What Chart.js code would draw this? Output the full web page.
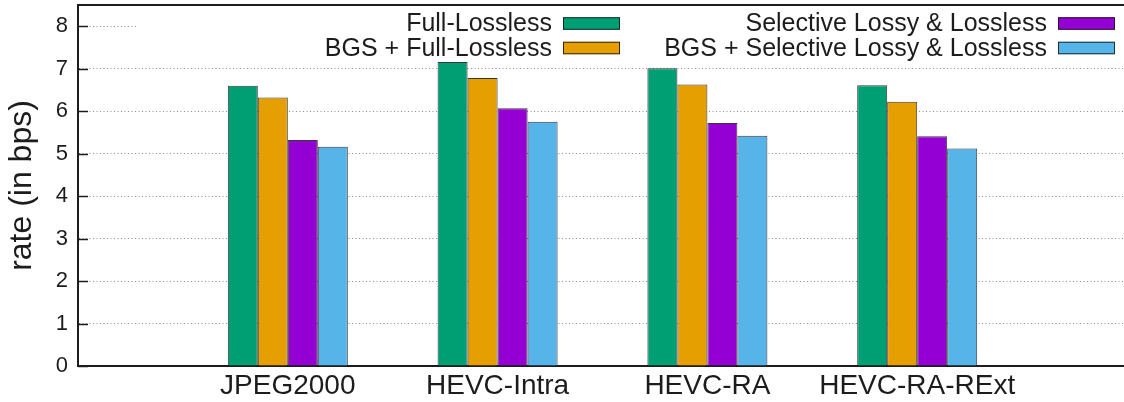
<!DOCTYPE html>
<html>
<head>
<meta charset="utf-8">
<title>Coding rate per codec</title>
<script src="https://cdn.jsdelivr.net/npm/chart.js@4/dist/chart.umd.min.js"></script>
<style>
  html, body { margin: 0; padding: 0; background: #fff; overflow: hidden; }
  #wrap { width: 1124px; height: 402px; overflow: hidden; }
  canvas { display: block; }
</style>
</head>
<body>
<div id="wrap"><canvas id="chart" width="1130" height="402"></canvas></div>
<script>
// Codecs on the x axis
const codecs = ['JPEG2000', 'HEVC-Intra', 'HEVC-RA', 'HEVC-RA-RExt'];

// Rate (bits per sample) for each coding scheme
const fullLossless       = [6.60, 7.16, 7.01, 6.61];
const bgsFullLossless    = [6.32, 6.78, 6.63, 6.22];
const selectiveLossy     = [5.32, 6.07, 5.72, 5.41];
const bgsSelectiveLossy  = [5.16, 5.75, 5.42, 5.12];

// Y axis tick values
const yTicks = [0, 1, 2, 3, 4, 5, 6, 7, 8];

const FONT = '"Liberation Sans", Arial, Helvetica, sans-serif';
const INK = '#1c1c1c';

// Empty slots on both sides give the axis its margin around the groups
const labels = ['', ...codecs, ''];
const pad = arr => [null, ...arr, null];

const series = [
  { label: 'Full-Lossless', data: fullLossless, color: '#009e73' },
  { label: 'BGS + Full-Lossless', data: bgsFullLossless, color: '#e69f00' },
  { label: 'Selective Lossy & Lossless', data: selectiveLossy, color: '#9400d3' },
  { label: 'BGS + Selective Lossy & Lossless', data: bgsSelectiveLossy, color: '#56b4e9' }
];

// Frame, inward ticks and the two-column key drawn on top of the plot
const framePlugin = {
  id: 'frameAndKey',
  afterDraw(chart) {
    const { ctx, chartArea: a } = chart;
    const y = chart.scales.y;
    ctx.save();

    // inward tick marks on the left axis
    ctx.strokeStyle = INK;
    ctx.lineWidth = 1.5;
    yTicks.forEach(v => {
      const py = Math.round(y.getPixelForValue(v)) + 0.5;
      ctx.beginPath();
      ctx.moveTo(a.left, py);
      ctx.lineTo(a.left + 10, py);
      ctx.stroke();
    });

    // top border of the frame
    ctx.lineWidth = 2;
    ctx.beginPath();
    ctx.moveTo(a.left - 1, a.top);
    ctx.lineTo(a.right + 5, a.top);
    ctx.stroke();

    // opaque key area
    ctx.fillStyle = '#fff';
    ctx.fillRect(a.left + 59, a.top + 2, a.right - a.left - 58, 52);

    ctx.font = '25px ' + FONT;
    ctx.textAlign = 'right';
    ctx.textBaseline = 'middle';
    const boxW = 57, boxH = 12.5;
    chart.data.datasets.forEach((ds, i) => {
      const col = Math.floor(i / 2), row = i % 2;
      const boxRight = a.left + (col === 0 ? 542 : 1037);
      const cy = a.top + 18.5 + row * 24.5;
      ctx.fillStyle = ds.backgroundColor;
      ctx.fillRect(boxRight - boxW, cy - boxH / 2, boxW, boxH);
      ctx.strokeStyle = 'rgba(20,20,20,0.85)';
      ctx.lineWidth = 1;
      ctx.strokeRect(boxRight - boxW + 0.5, cy - boxH / 2 + 0.5, boxW - 1, boxH - 1);
      ctx.fillStyle = INK;
      ctx.fillText(ds.label, boxRight - boxW - 11, cy + 1);
    });
    ctx.restore();
  }
};

new Chart(document.getElementById('chart'), {
  type: 'bar',
  data: {
    labels: labels,
    datasets: series.map(s => ({
      label: s.label,
      data: pad(s.data),
      backgroundColor: s.color,
      borderColor: 'rgba(20,20,20,0.85)',
      borderWidth: 1,
      categoryPercentage: 0.572,
      barPercentage: 1.0
    }))
  },
  options: {
    responsive: false,
    animation: false,
    devicePixelRatio: 1,
    layout: { padding: { top: 5, right: 3, left: 0, bottom: 0 } },
    plugins: {
      legend: { display: false },
      tooltip: { enabled: false }
    },
    scales: {
      x: {
        type: 'category',
        offset: false,
        grid: { display: false, drawTicks: false },
        border: { display: true, color: INK, width: 2 },
        ticks: {
          color: INK,
          padding: 3,
          autoSkip: false,
          maxRotation: 0,
          font: { family: FONT, size: 28 }
        },
        afterFit(scale) {
          scale.height = 36;
          scale.paddingLeft = 0;
          scale.paddingRight = 0;
        }
      },
      y: {
        min: 0,
        max: 8.5,
        grid: {
          color: '#8c8c8c',
          lineWidth: 1,
          drawTicks: false
        },
        border: { display: true, color: INK, width: 2, dash: [1, 2.5] },
        ticks: {
          stepSize: 1,
          color: INK,
          padding: 10,
          font: { family: FONT, size: 22 }
        },
        afterBuildTicks(scale) {
          scale.ticks = yTicks.map(v => ({ value: v }));
        },
        title: {
          display: true,
          text: 'rate (in bps)',
          color: INK,
          padding: { top: 3, bottom: 0 },
          font: { family: FONT, size: 32 }
        },
        afterFit(scale) {
          scale.width = 78;
          scale.paddingTop = 0;
          scale.paddingBottom = 0;
        }
      }
    }
  },
  plugins: [framePlugin]
});
</script>
</body>
</html>
